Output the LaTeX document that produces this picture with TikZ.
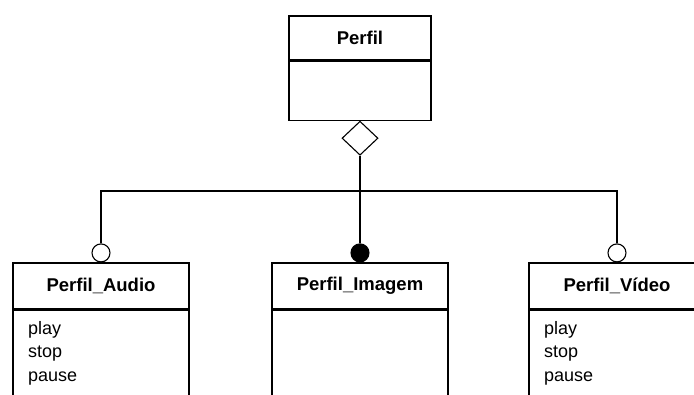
\documentclass[tikz,border=0pt]{standalone}
\usepackage{fontspec}
\setmainfont{Liberation Sans}
\usetikzlibrary{positioning,shapes.geometric}
\tikzset{
	classhead/.style={draw,line width=1.1pt,minimum width=176pt,minimum height=46pt,inner sep=0pt,font=\fontsize{18.5}{22}\selectfont\bfseries},
	classbody/.style={draw,line width=1.1pt,minimum width=176pt,minimum height=110pt,inner sep=0pt,anchor=north},
	ops/.style={anchor=north west,align=left,inner sep=0pt,font=\fontsize{18}{23.5}\selectfont},
	hollowend/.style={circle,draw,fill=white,line width=1.1pt,minimum size=18pt,inner sep=0pt,anchor=south},
	fullend/.style={hollowend,fill=black},
}
\begin{document}
\begin{tikzpicture}[x=1pt,y=-1pt,line width=1.1pt]
	\useasboundingbox (0,0) rectangle (694,395);
	%	\draw[color=gray,dash pattern=on 1pt off 1pt,step=20] (0,0) grid (694,395);
	% Perfil
	\node[classhead,minimum width=142pt,minimum height=44pt] (perfil) at (360,38) {Perfil};
	\node[classbody,minimum width=142pt,minimum height=59pt] (perfilbody) at (perfil.south) {};
	\node[diamond,draw,fill=white,aspect=1.06,minimum width=36pt,minimum height=34pt,inner sep=0pt,anchor=north] (agg) at (perfilbody.south) {};
	% subclasses
	\node[classhead] (audio) at (101,286) {Perfil\_Audio};
	\node[classbody] (audiobody) at (audio.south) {};
	\node[ops] (audioops) at ([xshift=15pt,yshift=-11pt]audiobody.north west) {play\\stop\\pause};
	\node[classhead] (imagem) at (360,286) {Perfil\_Imagem};
	\node[classbody] (imagembody) at (imagem.south) {};
	\node[classhead] (video) at (617,286) {Perfil\_Vídeo};
	\node[classbody] (videobody) at (video.south) {};
	\node[ops] (videoops) at ([xshift=15pt,yshift=-11pt]videobody.north west) {play\\stop\\pause};
	% ends
	\node[hollowend] (audioend) at (audio.north) {};
	\node[fullend] (imagemend) at (imagem.north) {};
	\node[hollowend] (videoend) at (video.north) {};
	% links
	\coordinate (bus) at (360,191);
	\draw (agg.south) -- (bus) -| (audioend.north);
	\draw (bus) -| (videoend.north);
	\draw (bus) -- (imagemend.north);
\end{tikzpicture}
\end{document}
